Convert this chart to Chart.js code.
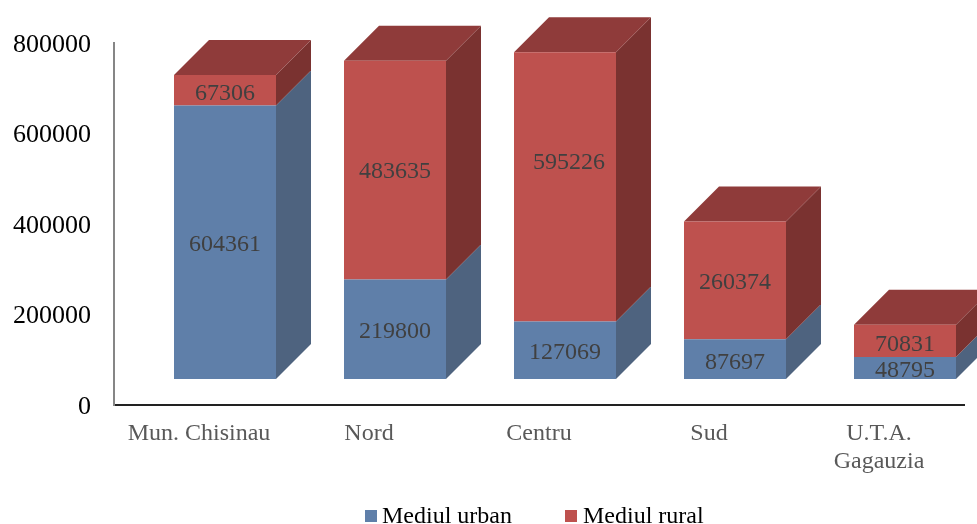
<!DOCTYPE html>
<html><head><meta charset="utf-8">
<style>html,body{margin:0;padding:0;background:#fff}canvas{display:block}</style>
<script src="https://cdn.jsdelivr.net/npm/chart.js@4/dist/chart.umd.min.js"></script>
</head><body><canvas id="c" width="977" height="524"></canvas>
<script>
const categories = ['Mun. Chisinau','Nord','Centru','Sud',['U.T.A.','Gagauzia']];
const urban = [604361,219800,127069,87697,48795];
const rural = [67306,483635,595226,260374,70831];
const serif = '"Liberation Serif","Times New Roman",serif';
const OFF = 26, DEPTH = 35;
const faces = [
  {front:'#5F7FA9', side:'#4E637F', top:'#4E637F'},
  {front:'#BE514E', side:'#7A3230', top:'#8F3B3A'}
];
// hand-placed data labels in the original: [dataset, category, dx, dy]
const labelShifts = [[1,2,4,-26],[0,3,0,2],[0,4,0,1],[1,4,0,2],[1,0,0,1]];
function poly(ctx, pts, fill){
  ctx.beginPath(); pts.forEach((p,i)=> i?ctx.lineTo(p[0],p[1]):ctx.moveTo(p[0],p[1]));
  ctx.closePath(); ctx.fillStyle=fill; ctx.fill();
}
const box3d = {
  id:'box3d',
  beforeDatasetsDraw(chart){
    const ctx = chart.ctx;
    ctx.save(); ctx.translate(OFF,-OFF);
    chart.data.datasets.forEach((ds,di)=>{
      chart.getDatasetMeta(di).data.forEach(b=>{
        const r=b.x+b.width/2, l=b.x-b.width/2, t=b.y, bt=b.base;
        poly(ctx,[[r,t],[r+DEPTH,t-DEPTH],[r+DEPTH,bt-DEPTH],[r,bt]],faces[di].side);
        if(di===chart.data.datasets.length-1)
          poly(ctx,[[l,t],[l+DEPTH,t-DEPTH],[r+DEPTH,t-DEPTH],[r,t]],faces[di].top);
      });
    });
  },
  afterDatasetsDraw(chart){
    const ctx = chart.ctx;
    ctx.font='24px '+serif; ctx.fillStyle='#404040'; ctx.textAlign='center'; ctx.textBaseline='middle';
    chart.data.datasets.forEach((ds,di)=>{
      chart.getDatasetMeta(di).data.forEach((b,i)=>{
        const s=labelShifts.find(v=>v[0]===di&&v[1]===i)||[0,0,0,0];
        ctx.fillText(String(ds.data[i]), b.x+s[2], (b.y+b.base)/2+2+s[3]);
      });
    });
    ctx.restore();
  },
  afterDraw(chart){
    const ctx=chart.ctx, xs=[365,565];
    ctx.save(); ctx.font='24px '+serif; ctx.textBaseline='middle'; ctx.textAlign='left';
    chart.data.datasets.forEach((ds,i)=>{
      ctx.fillStyle=ds.backgroundColor; ctx.fillRect(xs[i],510,12,12);
      ctx.fillStyle='#000'; ctx.fillText(ds.label,xs[i]+17+i,517);
    });
    ctx.restore();
  }
};
new Chart(document.getElementById('c'),{
  type:'bar',
  data:{labels:categories,datasets:[
    {label:'Mediul urban',data:urban,backgroundColor:faces[0].front,clip:false,barPercentage:1,categoryPercentage:0.6},
    {label:'Mediul rural',data:rural,backgroundColor:faces[1].front,clip:false,barPercentage:1,categoryPercentage:0.6}
  ]},
  options:{
    responsive:false,animation:false,
    layout:{padding:{top:43,right:13,left:0,bottom:0}},
    plugins:{legend:{display:false},tooltip:{enabled:false},title:{display:false}},
    scales:{
      x:{stacked:true,
        grid:{display:false,drawTicks:false},
        border:{color:'#222222',width:2},
        ticks:{color:'#595959',font:{family:serif,size:24,lineHeight:1.17},padding:15,maxRotation:0,autoSkip:false},
        afterFit(s){s.height=119;}
      },
      y:{stacked:true,min:0,max:800000,
        grid:{display:false,drawTicks:false},
        border:{color:'#868686',width:2},
        ticks:{stepSize:200000,color:'#000',font:{family:serif,size:26},padding:23,labelOffset:2,callback:v=>String(v)},
        afterFit(s){s.width=114;}
      }
    }
  },
  plugins:[box3d]
});
</script></body></html>
